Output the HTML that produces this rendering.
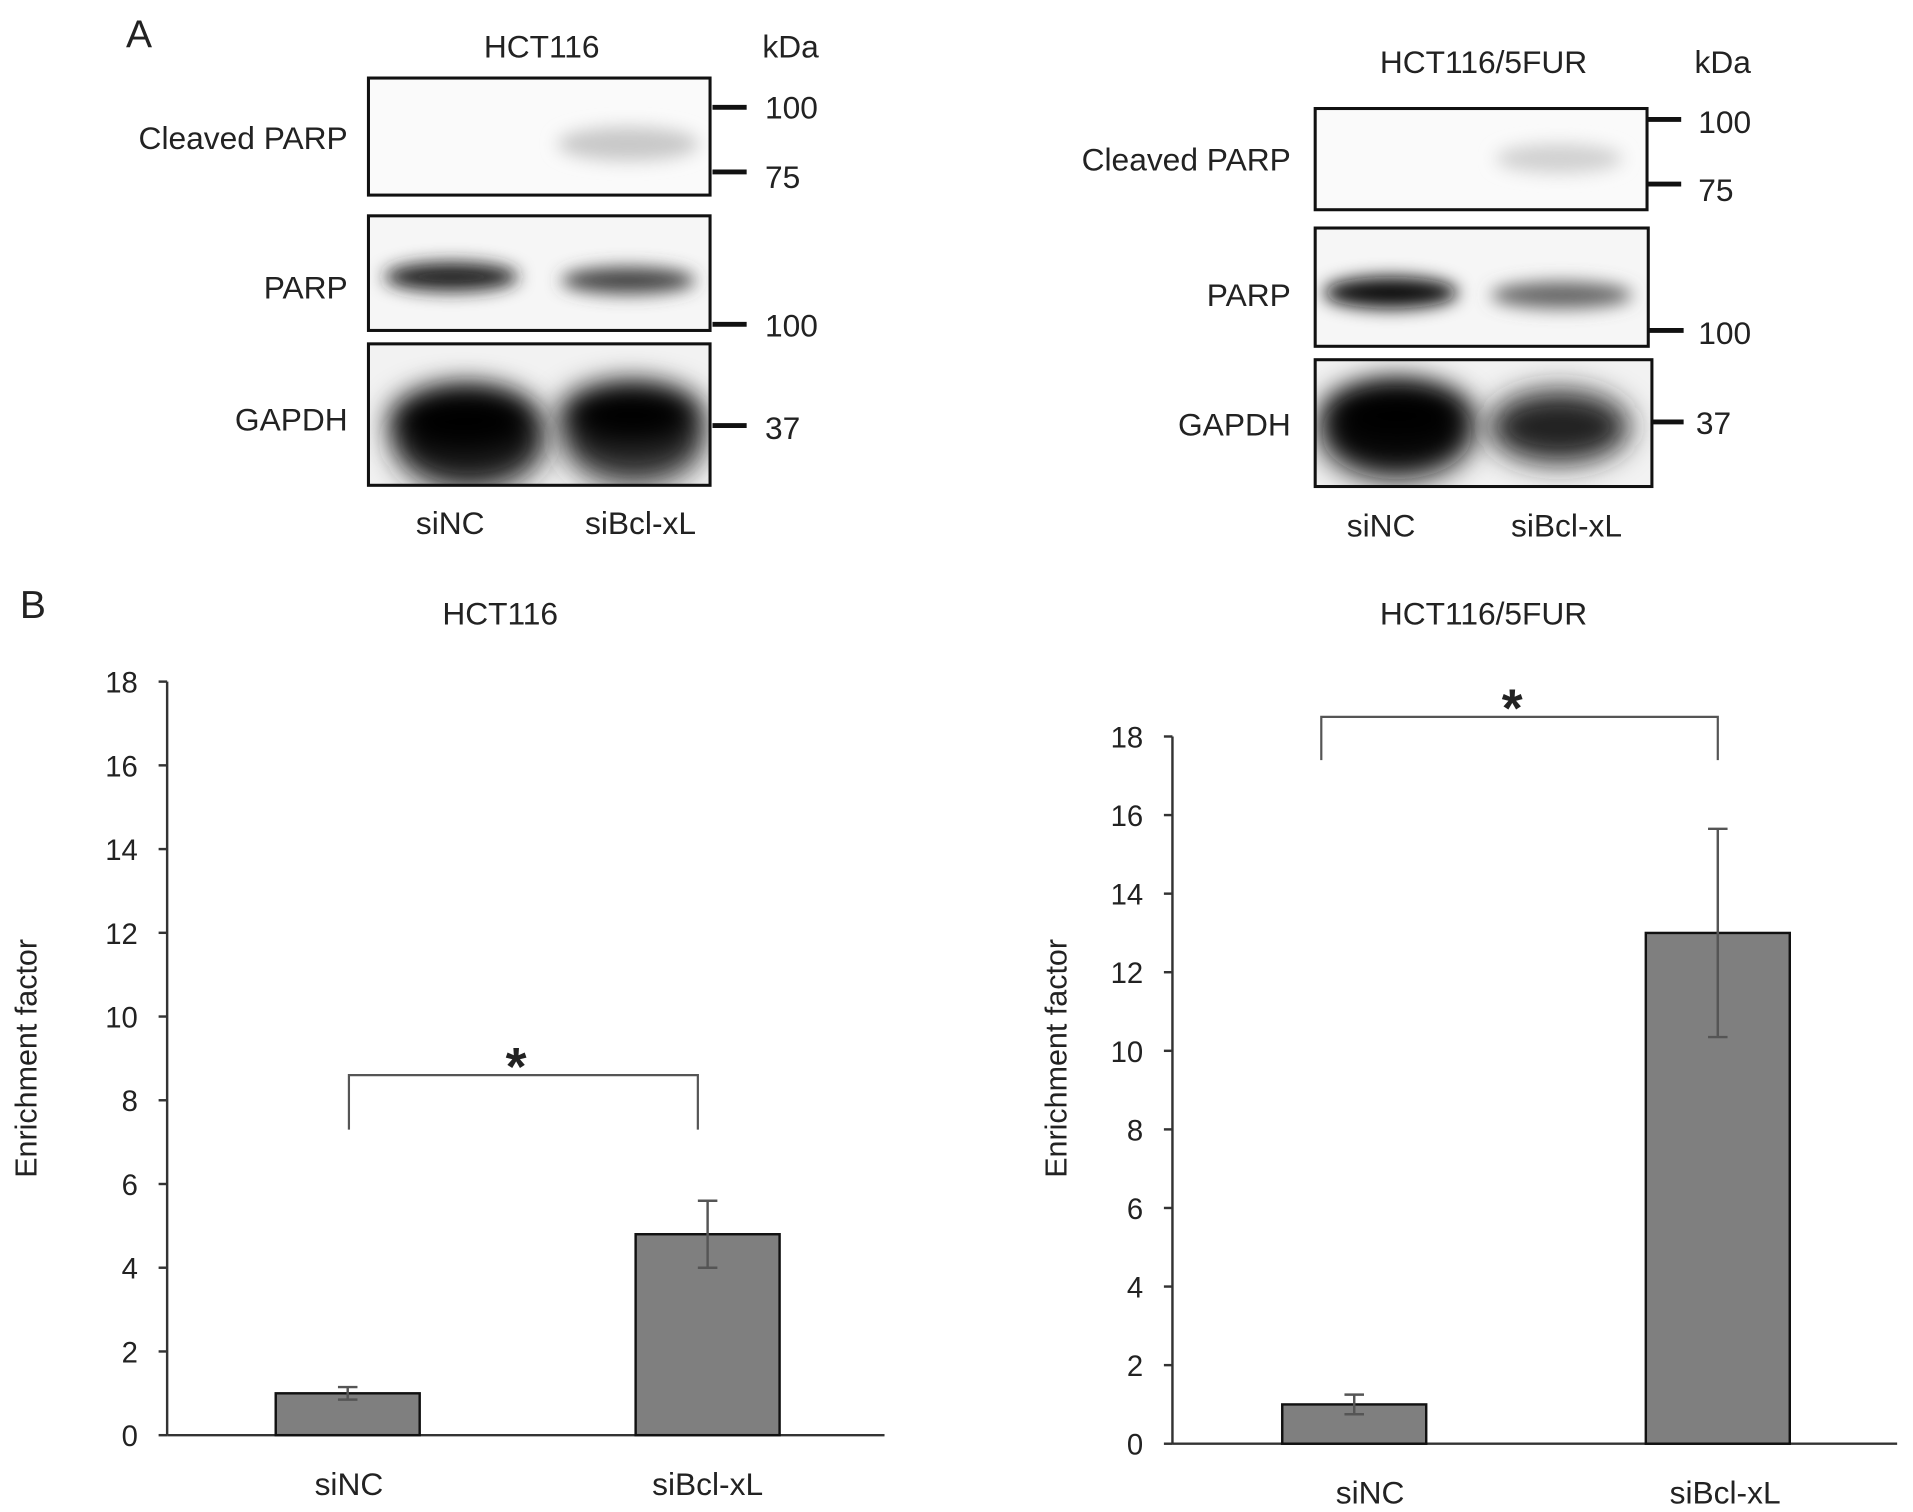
<!DOCTYPE html>
<html><head><meta charset="utf-8"><style>
html,body{margin:0;padding:0;background:#fff;}
svg{display:block;font-family:"Liberation Sans",sans-serif;}
</style></head><body>
<svg id="fig" width="1913" height="1512" viewBox="0 0 1568 1240" preserveAspectRatio="none">
<defs>
<filter id="b1" x="-50%" y="-100%" width="200%" height="300%"><feGaussianBlur stdDeviation="7"/></filter>
<filter id="b2" x="-50%" y="-100%" width="200%" height="300%"><feGaussianBlur stdDeviation="12"/></filter>
<clipPath id="cl1"><rect x="302" y="64" width="280" height="96"/></clipPath>
<clipPath id="cl2"><rect x="302" y="177" width="280" height="94"/></clipPath>
<clipPath id="cl3"><rect x="302" y="282" width="280" height="116"/></clipPath>
<clipPath id="cr1"><rect x="1078" y="89" width="272" height="83"/></clipPath>
<clipPath id="cr2"><rect x="1078" y="187" width="273" height="97"/></clipPath>
<clipPath id="cr3"><rect x="1078" y="295" width="276" height="104"/></clipPath>
</defs>
<g font-size="26" fill="#222">
<text x="114" y="39" font-size="32" text-anchor="middle">A</text>
<text x="27" y="507" font-size="32" text-anchor="middle">B</text>

<g>
<text x="444" y="47" text-anchor="middle">HCT116</text>
<text x="648" y="47" text-anchor="middle">kDa</text>
<rect x="302" y="64" width="280" height="96" fill="#fafafa"/>
<g clip-path="url(#cl1)"><ellipse cx="515" cy="118" rx="58" ry="14" fill="#c8c8c8" filter="url(#b1)"/></g>
<rect x="302" y="64" width="280" height="96" fill="none" stroke="#111" stroke-width="2.5"/>
<rect x="302" y="177" width="280" height="94" fill="#f6f6f6"/>
<g clip-path="url(#cl2)"><ellipse cx="370" cy="227" rx="55" ry="12" fill="#222" filter="url(#b1)"/><ellipse cx="515" cy="230" rx="55" ry="11" fill="#444" filter="url(#b1)"/></g>
<rect x="302" y="177" width="280" height="94" fill="none" stroke="#111" stroke-width="2.5"/>
<rect x="302" y="282" width="280" height="116" fill="#f2f2f2"/>
<g clip-path="url(#cl3)"><ellipse cx="385" cy="362" rx="62" ry="40" fill="#222" filter="url(#b2)"/><ellipse cx="380" cy="345" rx="60" ry="28" fill="#000" filter="url(#b2)"/><ellipse cx="520" cy="360" rx="58" ry="38" fill="#333" filter="url(#b2)"/><ellipse cx="517" cy="340" rx="58" ry="26" fill="#000" filter="url(#b2)"/></g>
<rect x="302" y="282" width="280" height="116" fill="none" stroke="#111" stroke-width="2.5"/>
<g stroke="#111" stroke-width="4"><line x1="584" y1="88" x2="612" y2="88"/><line x1="584" y1="141" x2="612" y2="141"/><line x1="584" y1="266" x2="612" y2="266"/><line x1="584" y1="349" x2="612" y2="349"/></g>
<text x="627" y="97">100</text><text x="627" y="154">75</text><text x="627" y="276">100</text><text x="627" y="360">37</text>
<text x="285" y="122" text-anchor="end">Cleaved PARP</text>
<text x="285" y="245" text-anchor="end">PARP</text>
<text x="285" y="353" text-anchor="end">GAPDH</text>
<text x="369" y="438" text-anchor="middle">siNC</text>
<text x="525" y="438" text-anchor="middle">siBcl-xL</text>
</g>

<g>
<text x="1216" y="60" text-anchor="middle">HCT116/5FUR</text>
<text x="1412" y="60" text-anchor="middle">kDa</text>
<rect x="1078" y="89" width="272" height="83" fill="#fafafa"/>
<g clip-path="url(#cr1)"><ellipse cx="1278" cy="130" rx="52" ry="12" fill="#d0d0d0" filter="url(#b1)"/></g>
<rect x="1078" y="89" width="272" height="83" fill="none" stroke="#111" stroke-width="2.5"/>
<rect x="1078" y="187" width="273" height="97" fill="#f6f6f6"/>
<g clip-path="url(#cr2)"><ellipse cx="1140" cy="240" rx="55" ry="13" fill="#111" filter="url(#b1)"/><ellipse cx="1280" cy="242" rx="58" ry="11" fill="#666" filter="url(#b1)"/></g>
<rect x="1078" y="187" width="273" height="97" fill="none" stroke="#111" stroke-width="2.5"/>
<rect x="1078" y="295" width="276" height="104" fill="#f2f2f2"/>
<g clip-path="url(#cr3)"><ellipse cx="1145" cy="355" rx="62" ry="38" fill="#111" filter="url(#b2)"/><ellipse cx="1145" cy="340" rx="60" ry="26" fill="#000" filter="url(#b2)"/><ellipse cx="1278" cy="350" rx="58" ry="30" fill="#222" filter="url(#b2)"/></g>
<rect x="1078" y="295" width="276" height="104" fill="none" stroke="#111" stroke-width="2.5"/>
<g stroke="#111" stroke-width="4"><line x1="1350" y1="98" x2="1378" y2="98"/><line x1="1350" y1="151" x2="1378" y2="151"/><line x1="1351" y1="271" x2="1380" y2="271"/><line x1="1354" y1="346" x2="1380" y2="346"/></g>
<text x="1392" y="109">100</text><text x="1392" y="165">75</text><text x="1392" y="282">100</text><text x="1390" y="356">37</text>
<text x="1058" y="140" text-anchor="end">Cleaved PARP</text>
<text x="1058" y="251" text-anchor="end">PARP</text>
<text x="1058" y="357" text-anchor="end">GAPDH</text>
<text x="1132" y="440" text-anchor="middle">siNC</text>
<text x="1284" y="440" text-anchor="middle">siBcl-xL</text>
</g>
</g>
<g id="charts"></g>
</svg>
<script>
const categories = ["siNC", "siBcl-xL"];
const leftValues = [1.0, 4.8];
const leftErrors = [0.15, 0.8];
const rightValues = [1.0, 13.0];
const rightErrors = [0.25, 2.65];
const yTicks = [0, 2, 4, 6, 8, 10, 12, 14, 16, 18];
const leftBracket = [7.3, 8.6];
const rightBracket = [17.4, 18.5];

const NS = "http://www.w3.org/2000/svg";
const root = document.getElementById("charts");
function mk(tag, attrs, parent, text) {
  const e = document.createElementNS(NS, tag);
  for (const k in attrs) e.setAttribute(k, attrs[k]);
  if (text !== undefined) e.textContent = text;
  parent.appendChild(e);
  return e;
}
function drawChart(cfg, values, errors, bracket, name) {
  const g = mk("g", {}, root);
  
  
  const y = v => cfg.y0 - (v / 18) * (cfg.y0 - cfg.y18);
  const xc = i => cfg.cats[i];
  const t = mk("text", {x: cfg.titleX, y: 512, "font-size": 26, "text-anchor": "middle", fill: "#222"}, g, cfg.title);
  
  
  mk("line", {x1: cfg.ax, y1: y(18), x2: cfg.ax, y2: cfg.y0, stroke: "#333", "stroke-width": 2}, g);
  mk("line", {x1: cfg.ax, y1: cfg.y0, x2: cfg.axEnd, y2: cfg.y0, stroke: "#333", "stroke-width": 2}, g);
  yTicks.forEach(v => {
    mk("line", {x1: cfg.ax - 7, y1: y(v), x2: cfg.ax, y2: y(v), stroke: "#333", "stroke-width": 2}, g);
    const tl = mk("text", {x: cfg.ax - 24, y: y(v) + 9, "font-size": 24, "text-anchor": "end", fill: "#222"}, g, String(v));
    
    
  });
  const yt = mk("text", {x: 0, y: 0, "font-size": 25, "text-anchor": "middle", fill: "#222", transform: `translate(${cfg.ytX},868) rotate(-90)`}, g, "Enrichment factor");
  
  
  values.forEach((v, i) => {
    const bar = mk("rect", {x: xc(i) - 59, y: y(v), width: 118, height: cfg.y0 - y(v), fill: "#7f7f7f", stroke: "#111", "stroke-width": 2}, g);
    
    
    const e = errors[i];
    const eb = mk("path", {d: `M${xc(i)},${y(v + e)}V${y(v - e)}M${xc(i) - 8},${y(v + e)}H${xc(i) + 8}M${xc(i) - 8},${y(v - e)}H${xc(i) + 8}`, stroke: "#555", "stroke-width": 2, fill: "none"}, g);
    
    
    const cl = mk("text", {x: cfg.labX[i], y: cfg.y0 + 49, "font-size": 26, "text-anchor": "middle", fill: "#222"}, g, categories[i]);
    
    
  });
  const br = mk("path", {d: `M${cfg.br[0]},${y(bracket[0])}V${y(bracket[1])}H${cfg.br[1]}V${y(bracket[0])}`, stroke: "#555", "stroke-width": 1.8, fill: "none"}, g);
  
  
  const st = mk("text", {x: (cfg.br[0] + cfg.br[1]) / 2 - 6, y: y(bracket[1]) + 8, "font-size": 44, "font-weight": "bold", "text-anchor": "middle", fill: "#222"}, g, "*");
  
  
}
drawChart({title: "HCT116", y0: 1177, y18: 559, ax: 137, axEnd: 725, cats: [285, 580], labX: [286, 580], titleX: 410, ytX: 30, br: [286, 572]}, leftValues, leftErrors, leftBracket, "chart-hct116");
drawChart({title: "HCT116/5FUR", y0: 1184, y18: 604, ax: 961, axEnd: 1555, cats: [1110, 1408], labX: [1123, 1414], titleX: 1216, ytX: 874, br: [1083, 1408]}, rightValues, rightErrors, rightBracket, "chart-hct116-5fur");
</script>
</body></html>
